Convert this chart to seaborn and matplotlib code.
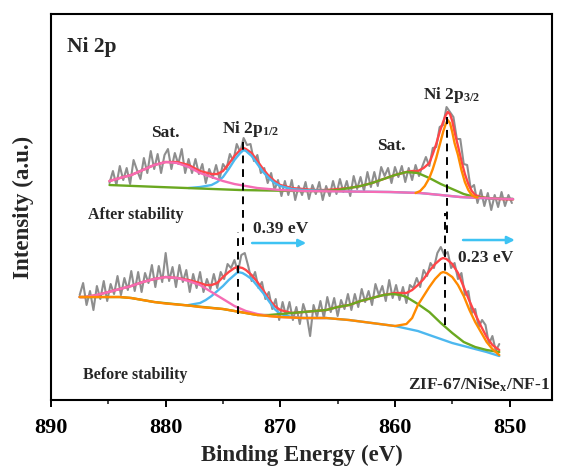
import numpy as np
import matplotlib
matplotlib.use("Agg")
import matplotlib.pyplot as plt
from matplotlib.ticker import MultipleLocator
import seaborn as sns

# ---------------- data (intensity in a.u.) ----------------
# raw scans, 0.3 eV step
top_scan_start, top_scan_end = 884.9, 849.8
top_raw = [217, 229, 215, 234, 220, 232, 216, 240, 230, 221,
           242, 227, 249, 231, 246, 227, 245, 251, 231, 247,
           236, 251, 227, 241, 227, 241, 226, 236, 217, 231,
           222, 235, 221, 236, 231, 246, 239, 256, 248, 262,
           255, 256, 239, 245, 227, 232, 217, 227, 210, 220,
           204, 219, 205, 220, 200, 214, 205, 218, 201, 215,
           206, 218, 200, 214, 204, 219, 206, 221, 208, 219,
           204, 224, 211, 223, 209, 228, 213, 228, 214, 233,
           224, 232, 217, 233, 223, 234, 218, 232, 220, 235,
           224, 234, 243, 234, 252, 253, 273, 275, 293, 288,
           283, 261, 261, 236, 235, 212, 215, 197, 210, 194,
           207, 190, 205, 193, 208, 194, 205, 197]

bot_scan_start, bot_scan_end = 887.5, 850.9
bot_raw = [105, 117, 95, 109, 90, 114, 101, 119, 99, 116,
           106, 124, 105, 122, 110, 129, 109, 128, 108, 127,
           117, 135, 113, 134, 118, 147, 119, 133, 113, 135,
           118, 130, 108, 126, 112, 128, 108, 121, 111, 126,
           112, 128, 121, 136, 132, 140, 128, 145, 147, 134,
           119, 128, 112, 118, 101, 108, 91, 101, 80, 98,
           84, 98, 80, 93, 76, 96, 85, 64, 95, 83,
           99, 82, 103, 88, 102, 84, 100, 91, 106, 90,
           106, 93, 111, 98, 109, 95, 116, 105, 114, 99,
           120, 102, 115, 100, 113, 97, 115, 112, 122, 113,
           130, 124, 137, 132, 147, 153, 145, 148, 132, 137,
           121, 127, 105, 109, 87, 91, 73, 80, 75, 56,
           64, 49, 56]

# fitted components, after stability
top_red_e = [884.9, 884, 883, 882, 881, 880, 879, 878, 877, 876, 875.5, 875, 874.5, 874,
             873.5, 873.2, 873, 872.5, 872, 871.5, 871, 870.5, 870, 869, 868, 867, 866,
             865, 864, 863, 862, 861, 860, 859, 858.5, 858, 857.5, 857, 856.7, 856.4,
             856.1, 855.8, 855.6, 855.4, 855.2, 855.0, 854.8, 854.5, 854.2, 853.9, 853.6,
             853.3, 853.0, 852.5, 852.0, 851.0, 849.7]
top_red_y = [219, 222, 225, 230, 235, 238, 238, 235, 229, 226, 226, 229, 236, 244,
             250, 252, 251, 247, 239, 231, 224, 219, 215, 212, 211, 210, 210,
             211, 212, 214, 217, 221, 225, 228, 229, 229, 232, 237, 246, 256,
             268, 278, 284, 288, 286, 279, 268, 254, 239, 226, 216,
             209, 205, 203, 202, 201, 200.5]
top_pink_e = [884.9, 884, 883, 882, 881, 880, 879, 878, 877, 876, 875, 874, 873, 872,
              871, 870, 868, 864, 860.4, 857.8, 856, 854.3, 852.6, 849.7]
top_pink_y = [219, 222, 225, 230, 235, 238, 237, 233, 227, 223, 219, 216, 214, 212,
              211, 210, 209, 208.5, 208, 207, 205, 203, 202, 201]
top_blue_e = [878, 877, 876, 875.5, 875, 874.5, 874, 873.5, 873.2, 873, 872.5, 872, 871.5,
              871, 870.5, 870, 869, 868, 864, 860.4, 857.8, 856, 854.3, 852.6, 849.7]
top_blue_y = [212, 213, 215, 218, 223, 231, 240, 247, 250, 249, 244, 236, 228,
              222, 217, 214, 211, 210, 208.5, 208, 207, 205, 203, 202, 201]
top_green_e = [884.9, 880.5, 873.5, 868.3, 866, 865, 864, 863, 862, 861, 860, 859, 858,
               857, 856, 855, 854, 853, 852, 849.7]
top_green_y = [215, 213, 210, 209, 209, 210, 212, 214, 217, 221, 225, 228, 227,
               222, 216, 211, 206, 203, 202, 201]
top_orange_e = [858.2, 857.8, 857.4, 857.0, 856.7, 856.4, 856.1, 855.8, 855.6, 855.4, 855.2,
                855.0, 854.8, 854.5, 854.2, 853.9, 853.6, 853.3, 853.0, 852.8]
top_orange_y = [207, 209, 214, 222, 231, 242, 255, 268, 275, 280, 277,
                268, 257, 245, 230, 218, 210, 205, 203, 202.5]

# fitted components, before stability
bot_red_e = [887.5, 887, 886, 885, 884, 883, 882, 881, 880, 879, 878, 877, 876.5, 876,
             875.5, 875, 874.5, 874, 873.7, 873.3, 873, 872.5, 872, 871.5, 871, 870.5,
             870, 869, 868, 867, 866, 865, 864, 863, 862, 861, 860, 859, 858.5, 858,
             857.5, 857, 856.5, 856, 855.8, 855.5, 855, 854.5, 854, 853.5, 853, 852.5,
             852, 851.5, 850.9]
bot_red_y = [103, 103, 105, 108, 111, 114, 118, 121, 123, 122, 120, 117, 115, 115,
             117, 123, 128, 132, 133, 132, 130, 125, 118, 110, 101, 94,
             90, 87, 88, 89, 90, 93, 95, 99, 102, 105, 107, 107, 110, 115,
             121, 129, 136, 141, 142, 141, 136, 127, 113, 99, 86, 74,
             63, 55, 50]
bot_pink_e = [887.5, 887, 886, 885, 884, 883, 882, 881, 880, 879, 878, 877, 876, 875,
              874, 873, 872, 871, 870, 868, 866]
bot_pink_y = [103, 103, 105, 108, 111, 114, 118, 121, 123, 122, 119, 115, 108, 101,
              94, 89, 86, 84, 83, 82, 82]
bot_blue_e = [878, 877, 876.5, 876, 875.5, 875, 874.5, 874, 873.7, 873.3, 873, 872.5, 872,
              871.5, 871, 870.5, 870, 869, 868, 866, 864, 862, 860, 858, 857, 856, 855,
              854, 853, 852, 850.9]
bot_blue_y = [95, 97, 100, 104, 109, 114, 120, 125, 128, 127, 125, 121, 114,
              107, 99, 91, 86, 83, 82, 82, 80, 77, 74, 69, 65, 61, 57,
              54, 51, 48, 44]
bot_green_e = [887.5, 884, 883, 881, 878, 875, 873, 872, 871, 870, 869, 868, 867, 866, 865,
               864, 863, 862, 861, 860.2, 859.5, 859, 858, 857, 856, 855, 854, 853, 852, 850.9]
bot_green_y = [103, 103, 102, 98, 94.5, 91, 87, 85, 85, 86, 87, 88, 89, 90, 93,
               95, 99, 102, 105, 106, 105, 103, 96, 88, 77, 67, 58, 53, 50, 48]
bot_orange_e = [887.5, 886, 884, 883, 881, 880, 878, 877, 875, 874, 873, 872, 870, 868, 866,
                864, 862, 860, 859, 858.5, 858, 857.5, 857, 856.5, 856, 855.8, 855.5, 855,
                854.5, 854, 853.5, 853, 852.5, 852, 851.5, 850.9]
bot_orange_y = [103, 103, 103, 102, 98, 96.5, 94.5, 93, 91, 89, 87, 85, 83, 82, 82,
                80, 77, 74, 76, 82, 95, 104, 113, 121, 127, 128, 127, 123,
                115, 104, 90, 78, 68, 58, 51, 45]

# peak positions (eV)
top_p12, bot_p12 = 873.26, 873.65
top_p32, bot_p32 = 855.42, 855.65

# ---------------- style ----------------
sns.set_theme(style="ticks")
plt.rcParams['font.family'] = ['Liberation Serif', 'DejaVu Serif']
plt.rcParams['font.weight'] = 'bold'
plt.rcParams['mathtext.fontset'] = 'custom'
plt.rcParams['mathtext.rm'] = 'Liberation Serif:bold'
plt.rcParams['mathtext.it'] = 'Liberation Serif:bold'
plt.rcParams['mathtext.bf'] = 'Liberation Serif:bold'

GRAY = '#8E8E8E'
RED = '#FF4548'
BLUE = '#4DB8EF'
PINK = '#F56CB4'
GREEN = '#6AA820'
ORANGE = '#FF8A00'
ARROW = '#3EC3F3'

fig = plt.figure(figsize=(5.65, 4.66), dpi=100)
ax = fig.add_axes([0.0903, 0.1416, 0.8867, 0.8283])

# raw data
top_e = np.linspace(top_scan_start, top_scan_end, len(top_raw))
bot_e = np.linspace(bot_scan_start, bot_scan_end, len(bot_raw))
for e, raw in [(top_e, top_raw), (bot_e, bot_raw)]:
    sns.lineplot(x=e, y=raw, ax=ax, color=GRAY, lw=1.5, estimator=None, sort=False, zorder=1)

# fitted curves
curves = [
    (top_red_e, top_red_y, RED, 2), (bot_red_e, bot_red_y, RED, 2),
    (top_blue_e, top_blue_y, BLUE, 3), (bot_blue_e, bot_blue_y, BLUE, 3),
    (top_green_e, top_green_y, GREEN, 4), (bot_green_e, bot_green_y, GREEN, 4),
    (top_pink_e, top_pink_y, PINK, 5), (bot_pink_e, bot_pink_y, PINK, 5),
    (top_orange_e, top_orange_y, ORANGE, 6), (bot_orange_e, bot_orange_y, ORANGE, 6),
]
for e, y, c, z in curves:
    sns.lineplot(x=e, y=y, ax=ax, color=c, lw=1.7, estimator=None, sort=False, zorder=z)

# peak markers
dash = dict(color='black', lw=1.4, ls=(0, (4, 3)), zorder=7)
ax.plot([top_p12, top_p12], [155, 260], **dash)
ax.plot([bot_p12, bot_p12], [86, 168], **dash)
ax.plot([top_p32, top_p32], [167, 283], **dash)
ax.plot([bot_p32, bot_p32], [75, 187], **dash)

# shift arrows
arr = dict(arrowstyle='-|>', color=ARROW, lw=1.8, mutation_scale=11)
ax.annotate('', xy=(867.5, 157), xytext=(872.7, 157), arrowprops=arr)
ax.annotate('', xy=(849.3, 160), xytext=(854.3, 160), arrowprops=arr)
ax.text(870.0, 171, '0.39 eV', fontsize=12.5, ha='center', va='center')
ax.text(852.1, 142, '0.23 eV', fontsize=12.5, ha='center', va='center')

# labels
ax.text(880.0, 267, 'Sat.', fontsize=12.5, ha='center', va='center')
ax.text(872.6, 271, 'Ni 2p$_{1/2}$', fontsize=12.5, ha='center', va='center')
ax.text(860.3, 254, 'Sat.', fontsize=12.5, ha='center', va='center')
ax.text(855.1, 305, 'Ni 2p$_{3/2}$', fontsize=12.5, ha='center', va='center')
ax.text(886.8, 185, 'After stability', fontsize=11.5, ha='left', va='center')
ax.text(887.2, 25, 'Before stability', fontsize=11.5, ha='left', va='center')
ax.text(0.995, 0.04, 'ZIF-67/NiSe$_\\mathrm{x}$/NF-1', transform=ax.transAxes,
        fontsize=12.5, ha='right', va='center')
ax.text(0.032, 0.915, 'Ni 2p', transform=ax.transAxes, fontsize=15.5, ha='left', va='center')

# axes
ax.set_xlim(890, 846.3)
ax.set_ylim(0, 386)
ax.xaxis.set_major_locator(MultipleLocator(10))
ax.xaxis.set_minor_locator(MultipleLocator(5))
ax.set_yticks([])
ax.tick_params(axis='x', which='major', direction='out', length=5, width=1.4,
               labelsize=16, colors='black', pad=8)
ax.tick_params(axis='x', which='minor', direction='out', length=3, width=1.2)
for s in ax.spines.values():
    s.set_visible(True)
    s.set_linewidth(1.5)
    s.set_color('black')
for lab in ax.get_xticklabels():
    lab.set_fontweight('bold')
ax.set_xlabel('Binding Energy (eV)', fontsize=16.5, fontweight='bold', labelpad=5)
ax.set_ylabel('Intensity (a.u.)', fontsize=16.5, fontweight='bold', labelpad=12)

fig.savefig('out.png', dpi=100)
